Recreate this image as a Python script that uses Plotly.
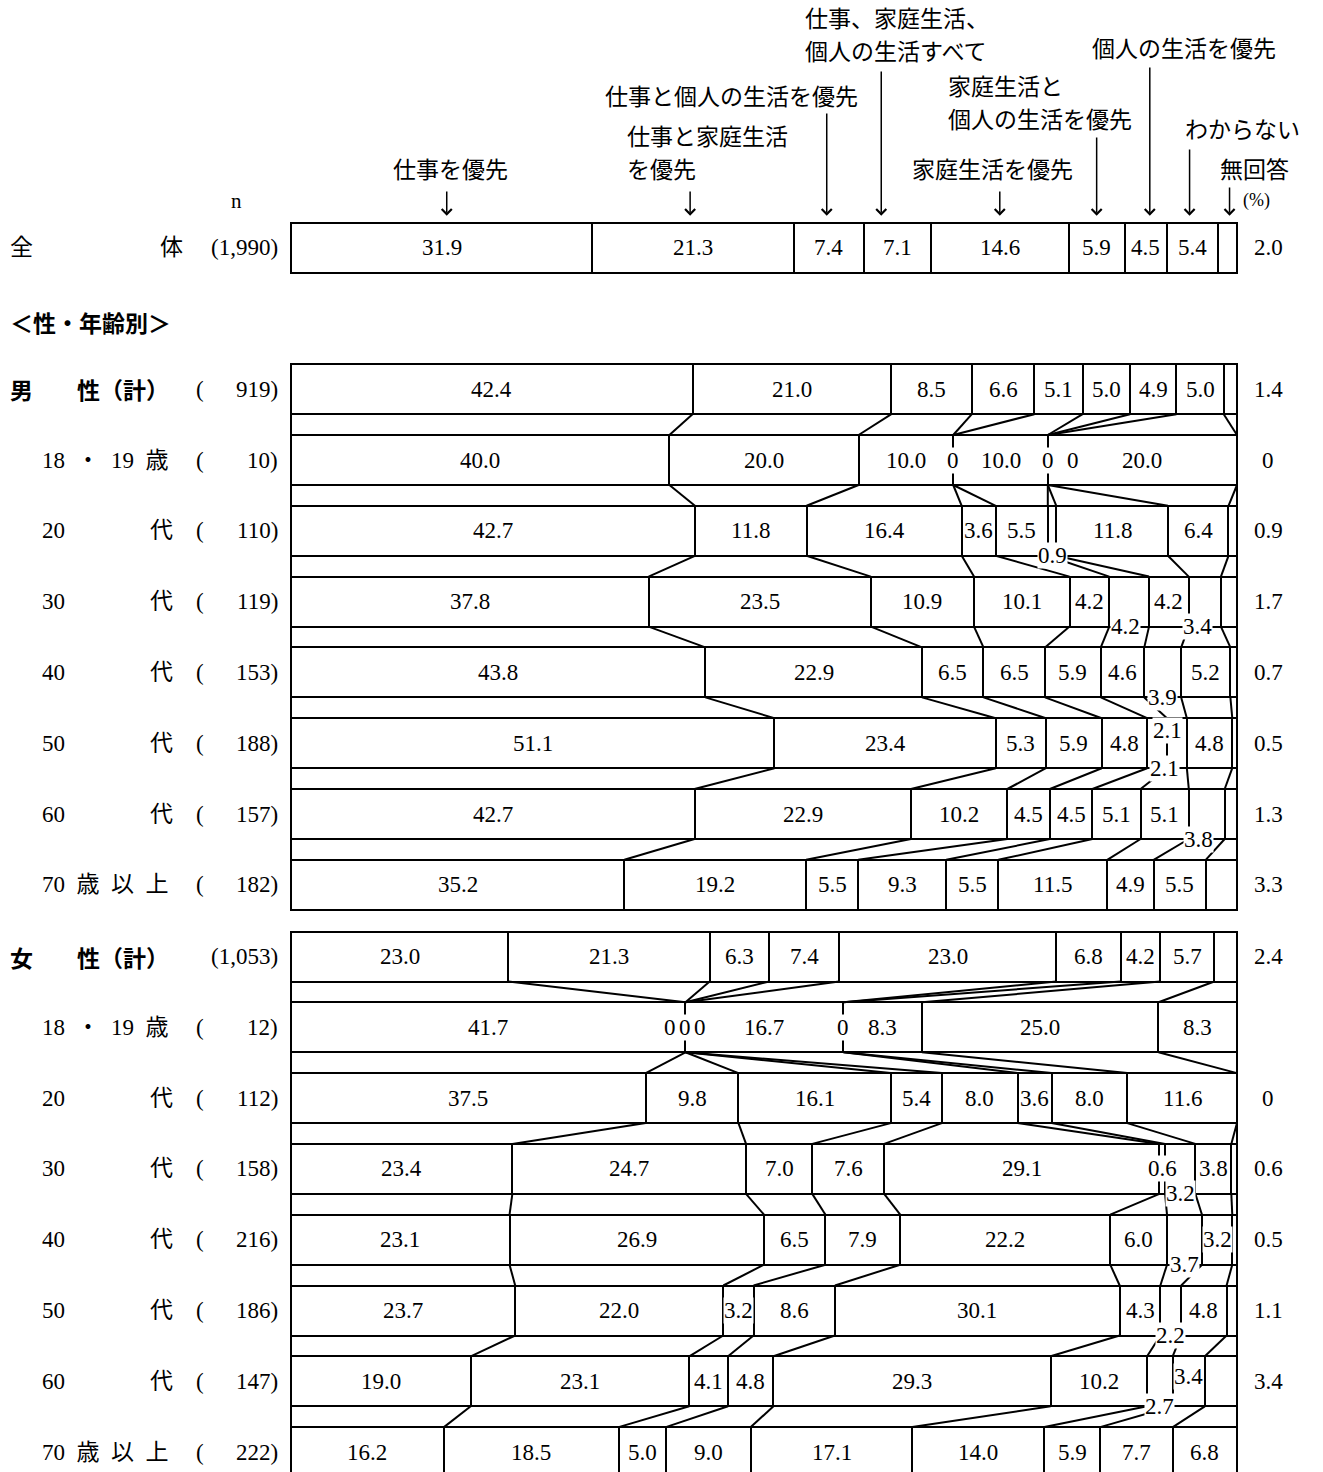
import plotly.graph_objects as go

# ---- data -------------------------------------------------------------
categories = ["仕事を優先", "仕事と家庭生活を優先", "仕事と個人の生活を優先",
              "仕事、家庭生活、個人の生活すべて", "家庭生活を優先",
              "家庭生活と個人の生活を優先", "個人の生活を優先", "わからない", "無回答"]

total_n = 1990
total_values = [31.9, 21.3, 7.4, 7.1, 14.6, 5.9, 4.5, 5.4, 2.0]

age_labels = ["18・19歳", "20代", "30代", "40代", "50代", "60代", "70歳以上"]

male_n = [919, 10, 110, 119, 153, 188, 157, 182]
male_values = [
    [42.4, 21.0, 8.5, 6.6, 5.1, 5.0, 4.9, 5.0, 1.4],
    [40.0, 20.0, 10.0, 0, 10.0, 0, 0, 20.0, 0],
    [42.7, 11.8, 16.4, 3.6, 5.5, 0.9, 11.8, 6.4, 0.9],
    [37.8, 23.5, 10.9, 10.1, 4.2, 4.2, 4.2, 3.4, 1.7],
    [43.8, 22.9, 6.5, 6.5, 5.9, 4.6, 3.9, 5.2, 0.7],
    [51.1, 23.4, 5.3, 5.9, 4.8, 2.1, 2.1, 4.8, 0.5],
    [42.7, 22.9, 10.2, 4.5, 4.5, 5.1, 5.1, 3.8, 1.3],
    [35.2, 19.2, 5.5, 9.3, 5.5, 11.5, 4.9, 5.5, 3.3],
]

female_n = [1053, 12, 112, 158, 216, 186, 147, 222]
female_values = [
    [23.0, 21.3, 6.3, 7.4, 23.0, 6.8, 4.2, 5.7, 2.4],
    [41.7, 0, 0, 0, 16.7, 0, 8.3, 25.0, 8.3],
    [37.5, 9.8, 16.1, 5.4, 8.0, 3.6, 8.0, 11.6, 0],
    [23.4, 24.7, 7.0, 7.6, 29.1, 0.6, 3.2, 3.8, 0.6],
    [23.1, 26.9, 6.5, 7.9, 22.2, 6.0, 3.7, 3.2, 0.5],
    [23.7, 22.0, 3.2, 8.6, 30.1, 4.3, 2.2, 4.8, 1.1],
    [19.0, 23.1, 4.1, 4.8, 29.3, 10.2, 2.7, 3.4, 3.4],
    [16.2, 18.5, 5.0, 9.0, 17.1, 14.0, 5.9, 7.7, 6.8],
]

# ---- layout constants (window pixels) ---------------------------------
W, H = 1323, 1472
LEFT, RIGHT = 291, 1237
SCALE = (RIGHT - LEFT) / 100
BAR_H = 50
PITCH = 70.8
TOTAL_Y = 247.7
MALE_Y0 = 389.2
FEMALE_Y0 = 956.5
NA_COL = 1268

SERIF = "Liberation Serif, Noto Sans CJK JP"
GOTHIC = "Noto Sans CJK JP"
FS = 23


def px(p):
    return (p - LEFT) / SCALE


# label tweaks: (group, row, segment) -> (where, xshift, yshift)
tweaks = {
    ("m", 1, 6): ("mid", 25, 0),
    ("m", 2, 5): ("bottom", 0, 0),
    ("m", 3, 5): ("bottom", -4, 0),
    ("m", 3, 7): ("bottom", -7, 0),
    ("m", 4, 6): ("bottom", 0, 0),
    ("m", 5, 5): ("top", 10, 0),
    ("m", 5, 6): ("bottom", -12, 0),
    ("m", 6, 7): ("bottom", -8, 0),
    ("f", 1, 1): ("mid", -15, 0),
    ("f", 1, 3): ("mid", 15, 0),
    ("f", 3, 6): ("bottom", 0, 0),
    ("f", 4, 6): ("bottom", 0, 0),
    ("f", 5, 6): ("bottom", 0, 0),
    ("f", 6, 6): ("bottom", 0, 0),
    ("f", 6, 7): ("mid", 0, 5),
}

rows = [("t", 0, TOTAL_Y, total_values, total_n)]
rows += [("m", i, MALE_Y0 + PITCH * i, v, n)
         for i, (v, n) in enumerate(zip(male_values, male_n))]
rows += [("f", i, FEMALE_Y0 + PITCH * i, v, n)
         for i, (v, n) in enumerate(zip(female_values, female_n))]


def normalise(vals):
    s = sum(vals)
    return [v * 100 / s for v in vals]


def cumulative(vals):
    out = [0]
    for v in vals:
        out.append(out[-1] + v)
    return out


fig = go.Figure()

# stacked bars, one trace per answer category
for k, cat in enumerate(categories):
    fig.add_trace(go.Bar(
        y=[r[2] for r in rows],
        x=[normalise(r[3])[k] for r in rows],
        orientation="h",
        width=BAR_H,
        name=cat,
        marker=dict(color="white", line=dict(color="black", width=2)),
        hoverinfo="skip",
        showlegend=False,
    ))

# connecting lines between neighbouring bars of a group
cx, cy = [], []
for grp in ("m", "f"):
    g = [r for r in rows if r[0] == grp]
    for a, b in zip(g[:-1], g[1:]):
        ca, cb = cumulative(normalise(a[3])), cumulative(normalise(b[3]))
        for k in range(len(ca)):
            cx += [ca[k], cb[k], None]
            cy += [a[2] + BAR_H / 2, b[2] - BAR_H / 2, None]
fig.add_trace(go.Scatter(x=cx, y=cy, mode="lines",
                         line=dict(color="black", width=2),
                         hoverinfo="skip", showlegend=False))

ann = []

# value labels
for grp, i, y, vals, n in rows:
    nv = normalise(vals)
    cum = cumulative(nv)
    for k, v in enumerate(vals):
        txt = "0" if v == 0 else f"{v:.1f}"
        if k == len(vals) - 1 and v < 5:
            ann.append(dict(x=px(NA_COL), y=y, text=txt, showarrow=False,
                            font=dict(family=SERIF, size=FS)))
            continue
        where, dx, dy = tweaks.get((grp, i, k), ("mid", 0, 0))
        yy = y
        if where == "bottom":
            yy = y + BAR_H / 2
        elif where == "top":
            yy = y - BAR_H / 2 + 12
        ann.append(dict(x=cum[k] + nv[k] / 2, y=yy, text=txt, showarrow=False,
                        xshift=dx, yshift=dy, bgcolor="white", borderpad=0,
                        font=dict(family=SERIF, size=FS)))

# row labels
ann.append(dict(x=px(8), y=TOTAL_Y, text="全", xanchor="left", showarrow=False,
                font=dict(family=SERIF, size=FS)))
ann.append(dict(x=px(158), y=TOTAL_Y, text="体", xanchor="left", showarrow=False,
                font=dict(family=SERIF, size=FS)))
ann.append(dict(x=px(8), y=322, text="<b>＜性・年齢別＞</b>", xanchor="left",
                showarrow=False, font=dict(family=GOTHIC, size=FS)))

age_display = ["18\u2002・\u200219\u2002歳", "20", "30", "40", "50", "60",
               "70\u2002歳\u2002以\u2002上"]

for grp, i, y, vals, n in rows:
    if n >= 1000:
        ann.append(dict(x=px(280), y=y, text=f"({n:,})", xanchor="right",
                        showarrow=False, font=dict(family=SERIF, size=FS)))
    else:
        ann.append(dict(x=px(280), y=y, text=f"{n})", xanchor="right",
                        showarrow=False, font=dict(family=SERIF, size=FS)))
        ann.append(dict(x=px(200), y=y, text="(", showarrow=False,
                        font=dict(family=SERIF, size=FS)))
    if grp == "t":
        continue
    if i == 0:
        ann.append(dict(x=px(8), y=y, text="<b>" + ("男" if grp == "m" else "女") + "</b>",
                        xanchor="left", showarrow=False, font=dict(family=GOTHIC, size=FS)))
        ann.append(dict(x=px(75), y=y, text="<b>性（計）</b>", xanchor="left",
                        showarrow=False, font=dict(family=GOTHIC, size=FS)))
    else:
        label = age_labels[i - 1]
        ann.append(dict(x=px(40), y=y, text=age_display[i - 1], xanchor="left",
                        showarrow=False, font=dict(family=SERIF, size=FS)))
        if label.endswith("代"):
            ann.append(dict(x=px(148), y=y, text="代", xanchor="left",
                            showarrow=False, font=dict(family=SERIF, size=FS)))

ann.append(dict(x=px(236), y=201, text="n", showarrow=False,
                font=dict(family=SERIF, size=FS - 2)))
ann.append(dict(x=px(1256), y=200, text="(%)", showarrow=False,
                font=dict(family=SERIF, size=FS - 5)))

# header: category names (one annotation per line) with arrows
header = [
    ("仕事を優先", 450, 168, "center"),
    ("仕事と家庭生活", 625, 135, "left"),
    ("を優先", 625, 168, "left"),
    ("仕事と個人の生活を優先", 731, 95, "center"),
    ("仕事、家庭生活、", 803, 17, "left"),
    ("個人の生活すべて", 803, 50, "left"),
    ("家庭生活を優先", 992, 168, "center"),
    ("家庭生活と", 946, 85, "left"),
    ("個人の生活を優先", 946, 118, "left"),
    ("個人の生活を優先", 1090, 47, "left"),
    ("わからない", 1183, 128, "left"),
    ("無回答", 1218, 168, "left"),
]
for txt, hx, hy, anchor in header:
    ann.append(dict(x=px(hx), y=hy, text=txt, xanchor=anchor,
                    showarrow=False, font=dict(family=GOTHIC, size=FS)))

arrow_top = [190, 190, 112, 70, 190, 136, 66, 148, 186]
arrow_dx = [5, -3, -2, -16, 0, 0, 4, -3, 2]
tot_norm = normalise(total_values)
tot_cum = cumulative(tot_norm)
tip = TOTAL_Y - BAR_H / 2 - 7
for k in range(len(categories)):
    ann.append(dict(x=tot_cum[k] + tot_norm[k] / 2, y=tip, ax=0, ay=arrow_top[k] - tip,
                    text="", showarrow=True, arrowhead=4, arrowsize=1.3,
                    arrowwidth=1.5, arrowcolor="black", xshift=arrow_dx[k]))

fig.update_layout(
    width=W, height=H,
    margin=dict(l=0, r=0, t=0, b=0),
    barmode="stack",
    plot_bgcolor="white", paper_bgcolor="white",
    font=dict(color="black", family=SERIF),
    xaxis=dict(visible=False, range=[px(0), px(W)], fixedrange=True),
    yaxis=dict(visible=False, range=[H, 0], fixedrange=True),
    annotations=ann,
    showlegend=False,
)

# drop the page's default body margin so the figure sits at the window origin
fig.write_html("out.html", config={"displayModeBar": False},
               post_script="document.body.style.margin = '0';")
